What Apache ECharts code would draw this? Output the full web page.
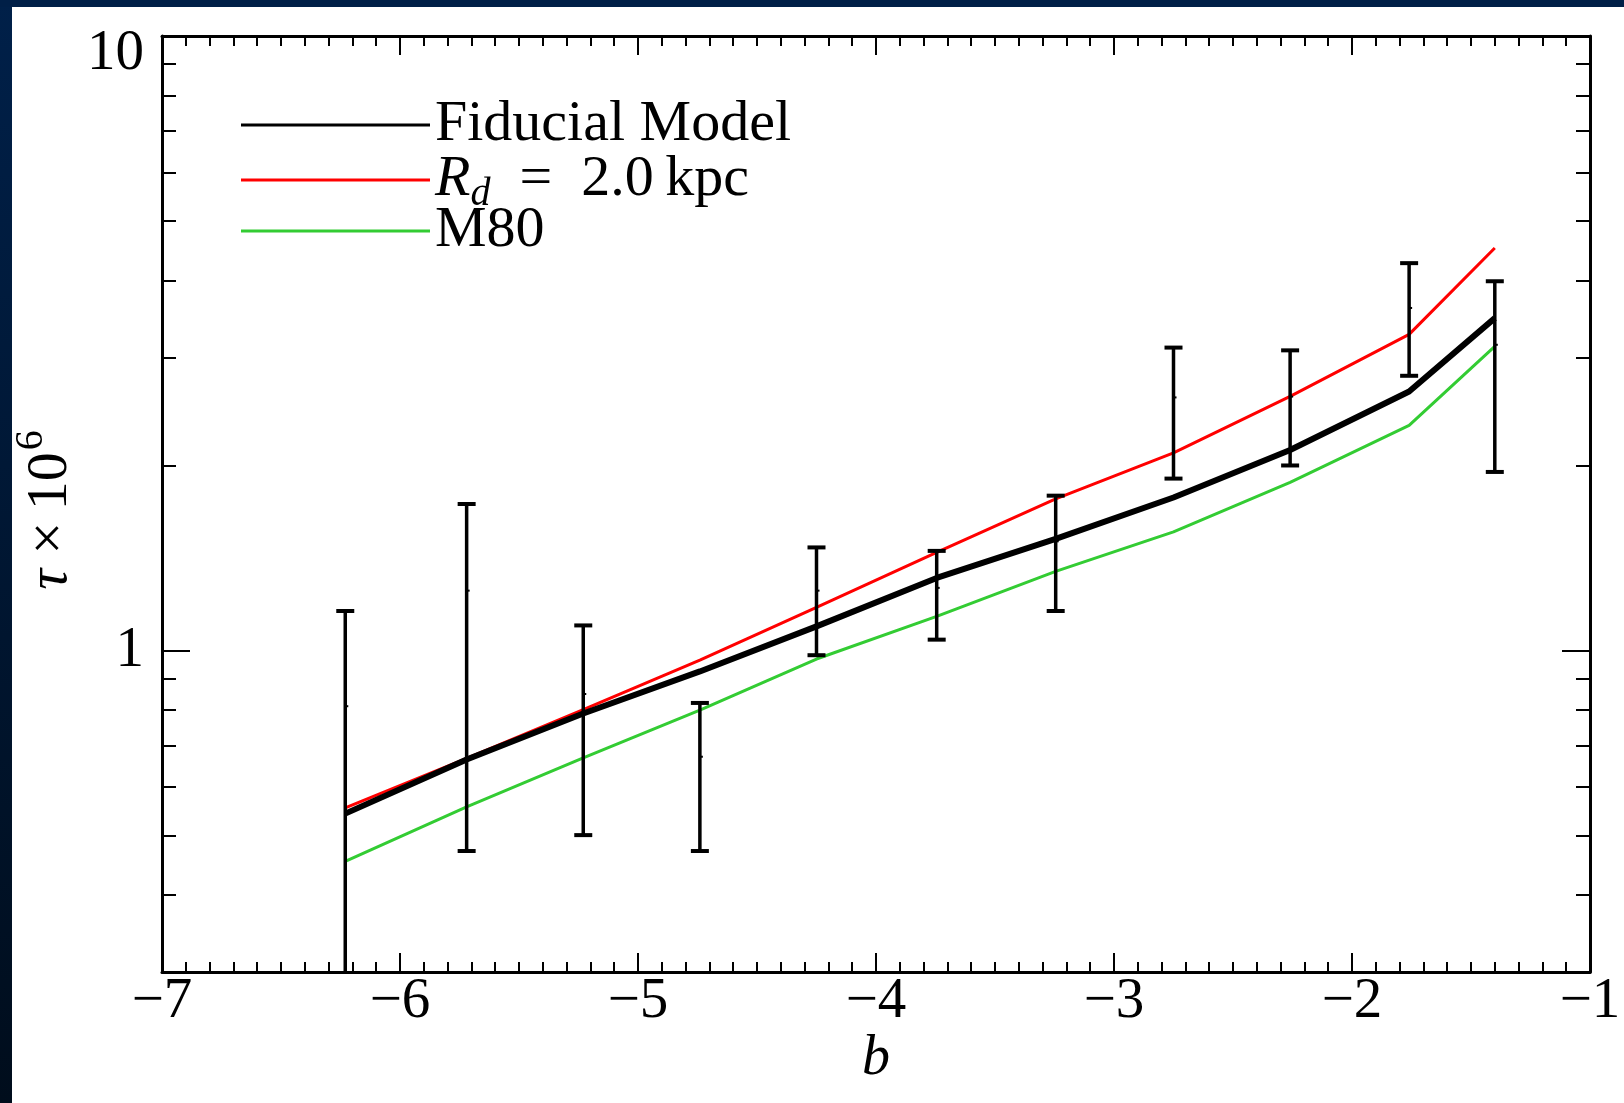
<!DOCTYPE html>
<html>
<head>
<meta charset="utf-8">
<script src="https://cdn.jsdelivr.net/npm/echarts@6/dist/echarts.min.js"></script>
<style>
html, body { margin: 0; padding: 0; background: #fff; }
#chart { width: 1624px; height: 1103px; }
</style>
</head>
<body>
<div id="chart"></div>
<script>
// galactic latitude of the fields
const bVals = [-6.23, -5.72, -5.23, -4.74, -4.25, -3.745, -3.245, -2.75, -2.26, -1.76, -1.40]
// model curves (tau x 1e6)
const fiducial = [0.543, 0.665, 0.79, 0.925, 1.095, 1.313, 1.52, 1.775, 2.12, 2.64, 3.475]
const rd20 = [0.555, 0.668, 0.802, 0.965, 1.176, 1.445, 1.766, 2.097, 2.592, 3.27, 4.52]
const m80 = [0.454, 0.557, 0.669, 0.80, 0.969, 1.137, 1.346, 1.56, 1.878, 2.325, 3.125]
// observed values with error bars
const obsMid = [0.812, 1.252, 0.85, 0.672, 1.252, 1.265, 1.506, 2.582, 2.59, 3.61, 3.145]
const obsHigh = [1.16, 1.732, 1.099, 0.822, 1.472, 1.453, 1.787, 3.112, 3.08, 4.27, 3.99]
const obsLow = [0.25, 0.472, 0.501, 0.472, 0.983, 1.042, 1.16, 1.905, 2.001, 2.80, 1.953]
// axis ticks
const yMajor = [1, 10]
const yMinor = [0.3, 0.4, 0.5, 0.6, 0.7, 0.8, 0.9, 2, 3, 4, 5, 6, 7, 8, 9]
// legend entries and rows
const legendNames = ['Fiducial Model', 'Rd = 2.0 kpc', 'M80']
const legendTops = [96, 146, 202]

const FONT = 'Liberation Serif'

const pairs = (ys) => bVals.map((b, i) => [b, ys[i]])

const minusFmt = (v) => (v < 0 ? '\u2212' : '') + Math.abs(v)

const xBase = {
    type: 'value', min: -7, max: -1, interval: 1,
    splitLine: { show: false },
    axisLine: { show: true, onZero: false, lineStyle: { color: '#000', width: 3 } },
    axisTick: { show: true, inside: true, length: 19, lineStyle: { color: '#000', width: 2 } },
    minorTick: { show: true, splitNumber: 10, length: 10, lineStyle: { color: '#000', width: 2 } },
    minorSplitLine: { show: false }
}

const yBase = (pos, major, withLine) => ({
    type: 'log', logBase: 10, min: 0.3, max: 10, position: pos,
    splitLine: { show: false },
    axisLine: { show: withLine, lineStyle: { color: '#000', width: 3 } },
    axisTick: {
        show: true, inside: true, length: major ? 28 : 14,
        customValues: major ? yMajor : yMinor,
        lineStyle: { color: '#000', width: 2 }
    },
    axisLabel: { show: false }
})

const yLeft = yBase('left', true, true)
yLeft.axisLabel = {
    show: true, customValues: yMajor, margin: 18,
    fontFamily: FONT, fontSize: 57, color: '#000',
    formatter: (v) => v >= 10 ? '{top|10}' : '{n|1}',
    rich: {
        top: { fontFamily: FONT, fontSize: 57, color: '#000', padding: [36, 0, 0, 0] },
        n: { fontFamily: FONT, fontSize: 57, color: '#000' }
    }
}
yLeft.name = '{t|\u03c4}{n| \u00d7\u200910}{s|6}'
yLeft.nameLocation = 'middle'
yLeft.nameRotate = 90
yLeft.nameGap = 80
yLeft.nameMoveOverlap = false
yLeft.nameTextStyle = {
    padding: [0, 12, 0, 0],
    rich: {
        t: { fontFamily: FONT, fontStyle: 'italic', fontSize: 58, color: '#000', lineHeight: 62 },
        n: { fontFamily: FONT, fontSize: 58, color: '#000', lineHeight: 62 },
        s: { fontFamily: FONT, fontSize: 40, color: '#000', lineHeight: 20, padding: [0, 0, 40, 2] }
    }
}

const legendText = {
    fontFamily: FONT, fontSize: 58, color: '#000', lineHeight: 58,
    rich: {
        r: { fontFamily: FONT, fontStyle: 'italic', fontSize: 58, color: '#000', lineHeight: 58 },
        d: { fontFamily: FONT, fontStyle: 'italic', fontSize: 40, color: '#000', lineHeight: 26, padding: [28, 0, 0, 0] },
        n: { fontFamily: FONT, fontSize: 58, color: '#000', lineHeight: 58 }
    }
}

const chart = echarts.init(document.getElementById('chart'))

chart.setOption({
    animation: false,
    backgroundColor: '#fff',
    graphic: [
        {
            type: 'rect', left: 0, top: 0, z: 100,
            shape: { width: 12, height: 1103 },
            style: {
                fill: new echarts.graphic.LinearGradient(0, 0, 0, 1, [
                    { offset: 0, color: '#002049' },
                    { offset: 1, color: '#000d1c' }
                ])
            }
        },
        {
            type: 'rect', left: 0, top: 0, z: 100,
            shape: { width: 1624, height: 7 },
            style: { fill: '#001f47' }
        }
    ],
    grid: { left: 162, top: 36, width: 1428, height: 936, outerBoundsMode: 'none', containLabel: false },
    legend: legendNames.map((nm, i) => ({
        orient: 'vertical', left: 241, top: legendTops[i], padding: 0,
        itemWidth: 189, itemHeight: 3, icon: 'rect',
        data: [nm],
        textStyle: legendText,
        formatter: (name) => name === 'Rd = 2.0 kpc' ? '{r|R}{d|d}{n|\u2002=\u20022.0\u2009kpc}' : name
    })),
    xAxis: [
        Object.assign({}, xBase, {
            position: 'bottom',
            axisLabel: { show: true, margin: 2, fontFamily: FONT, fontSize: 57, color: '#000', formatter: minusFmt },
            name: 'b', nameLocation: 'middle', nameGap: 59, nameMoveOverlap: false,
            nameTextStyle: { fontFamily: FONT, fontStyle: 'italic', fontSize: 56, color: '#000' }
        }),
        Object.assign({}, xBase, { position: 'top', axisLabel: { show: false } })
    ],
    yAxis: [
        yLeft,
        yBase('left', false, false),
        yBase('right', true, true),
        yBase('right', false, false)
    ],
    series: [
        {
            name: 'M80', type: 'line', data: pairs(m80), symbol: 'none', z: 2,
            lineStyle: { color: '#33cc33', width: 3 }, itemStyle: { color: '#33cc33' }
        },
        {
            name: 'Rd = 2.0 kpc', type: 'line', data: pairs(rd20), symbol: 'none', z: 2,
            lineStyle: { color: '#ff0000', width: 3 }, itemStyle: { color: '#ff0000' }
        },
        {
            name: 'Fiducial Model', type: 'line', data: pairs(fiducial), symbol: 'none', z: 3,
            lineStyle: { color: '#000', width: 6 }, itemStyle: { color: '#000' }
        },
        {
            type: 'custom', clip: true, z: 4,
            data: bVals.map((b, i) => [b, obsMid[i], obsHigh[i], obsLow[i]]),
            encode: { x: 0, y: [1, 2, 3] },
            renderItem: (params, api) => {
                const x = api.value(0)
                const mid = api.coord([x, api.value(1)])
                const hi = api.coord([x, api.value(2)])
                const lo = api.coord([x, api.value(3)])
                const w = 9
                const cap = { stroke: '#000', lineWidth: 4 }
                return {
                    type: 'group',
                    children: [
                        { type: 'line', shape: { x1: hi[0], y1: hi[1], x2: lo[0], y2: lo[1] }, style: { stroke: '#000', lineWidth: 3.5 } },
                        { type: 'line', shape: { x1: hi[0] - w, y1: hi[1], x2: hi[0] + w, y2: hi[1] }, style: cap },
                        { type: 'line', shape: { x1: lo[0] - w, y1: lo[1], x2: lo[0] + w, y2: lo[1] }, style: cap },
                        { type: 'line', shape: { x1: mid[0], y1: mid[1], x2: mid[0] + 3, y2: mid[1] }, style: { stroke: '#000', lineWidth: 2 } }
                    ]
                }
            }
        }
    ]
})
</script>
</body>
</html>
